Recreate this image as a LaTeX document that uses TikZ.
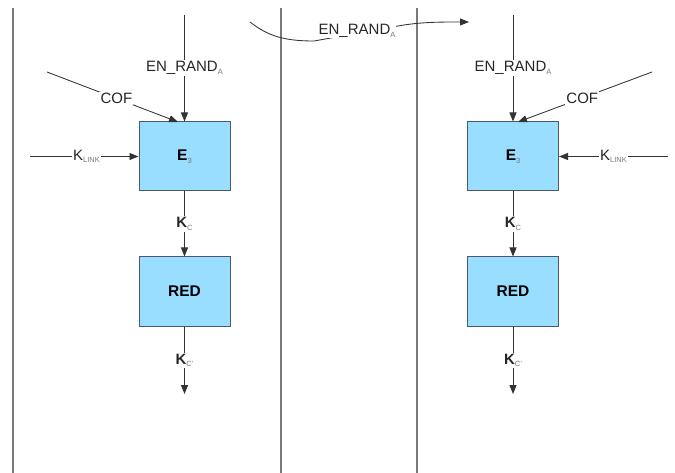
\documentclass[tikz,border=0pt]{standalone}
\usepackage{fontspec}
\setmainfont{Liberation Sans}
\usetikzlibrary{arrows.meta}
\definecolor{boxblue}{HTML}{99DDFF}
\definecolor{boxedge}{HTML}{4A5A66}
\definecolor{wire}{HTML}{333333}
\definecolor{sep}{HTML}{7A7A7A}
\definecolor{subgray}{HTML}{7A7A7A}
\newcommand{\lowidx}[1]{\raisebox{-0.3ex}{\fontsize{7.5}{8}\selectfont\mdseries\color{subgray}#1}}
\tikzset{
  block/.style={draw=boxedge, line width=1pt, fill=boxblue, minimum width=91pt,
    minimum height=69pt, inner sep=0pt, font=\fontsize{15.5}{17}\selectfont\bfseries},
  wireline/.style={draw=wire, line width=0.85pt},
  arr/.style={wireline, -{Triangle[length=9pt,width=7pt]}},
  tag/.style={fill=white, inner sep=1.2pt, font=\fontsize{15}{17}\selectfont, text=black!85},
  ktag/.style={tag, font=\fontsize{15}{17}\selectfont\bfseries},
  divider/.style={draw=sep, line width=1.2pt}
}
\begin{document}
\begin{tikzpicture}[x=1pt, y=-1pt]
\useasboundingbox (0,0) rectangle (675,473);

% lane dividers
\draw[divider] (13,8) -- (13,473);
\draw[divider] (281,8) -- (281,473);
\draw[divider] (417,8) -- (417,473);

% left chain
\node[block] (E3L) at (184.5,156.5) {E\lowidx{3}};
\node[block] (REDL) at (184.5,291.5) {RED};
\coordinate (enL) at (184.5,15);
\coordinate (cofL) at (47,72);
\coordinate (klL) at (30,156.5);
\coordinate (outL) at (184.5,394);
\coordinate (cofLtip) at (178,122);

\draw[arr] (enL) -- node[tag] {EN\_RAND\lowidx{A}} (E3L.north);
\draw[arr] (cofL) -- node[tag, pos=0.53] {COF} (cofLtip);
\draw[arr] (klL) -- node[tag, pos=0.52] {K\lowidx{LINK}} (E3L.west);
\draw[arr] (E3L.south) -- node[ktag] {K\lowidx{C}} (REDL.north);
\draw[arr] (REDL.south) -- node[ktag] {K\lowidx{C'}} (outL);

% right chain
\node[block] (E3R) at (513,156.5) {E\lowidx{3}};
\node[block] (REDR) at (513,291.5) {RED};
\coordinate (enR) at (513,15);
\coordinate (cofR) at (652,72);
\coordinate (klR) at (668,156.5);
\coordinate (outR) at (513,394);
\coordinate (cofRtip) at (518,122);

\draw[arr] (enR) -- node[tag] {EN\_RAND\lowidx{A}} (E3R.north);
\draw[arr] (cofR) -- node[tag, pos=0.52] {COF} (cofRtip);
\draw[arr] (klR) -- node[tag, pos=0.5] {K\lowidx{LINK}} (E3R.east);
\draw[arr] (E3R.south) -- node[ktag] {K\lowidx{C}} (REDR.north);
\draw[arr] (REDR.south) -- node[ktag] {K\lowidx{C'}} (outR);

% transfer of EN_RAND_A across the lanes
\coordinate (xferA) at (250,22);
\coordinate (xferB) at (469,22);
\draw[arr] (xferA) .. controls (268,36) and (284,41) .. (314,41)
  -- (398,26) .. controls (420,22) and (440,22) .. (xferB);
\node[tag, inner sep=0.5pt] (xferlbl) at (357,31) {EN\_RAND\lowidx{A}};
\end{tikzpicture}
\end{document}
